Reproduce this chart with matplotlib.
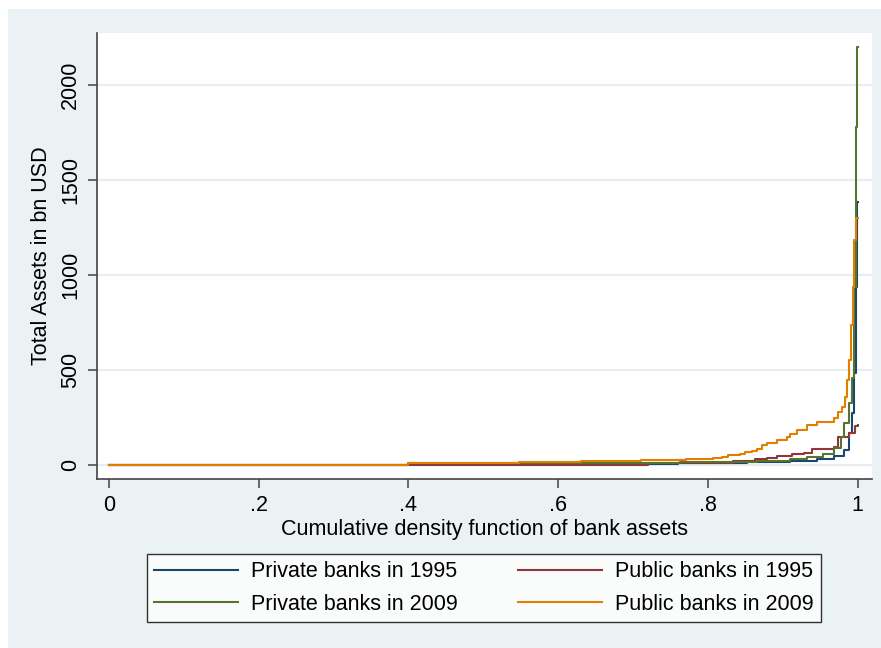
import matplotlib
matplotlib.use("Agg")
import matplotlib.pyplot as plt
import matplotlib.patches as patches

plt.rcParams['font.family'] = ['Liberation Sans', 'DejaVu Sans']

# cumulative share of banks (x) and total assets in bn USD (y)
priv95_x = [0.0, 0.40, 0.76, 0.852, 0.91, 0.945, 0.968, 0.981, 0.988, 0.992, 0.995, 0.997, 0.999, 1.0]
priv95_y = [1, 3, 9, 16, 21, 30, 47, 79, 167, 272, 484, 937, 1382, 1382]

pub95_x = [0.0, 0.72, 0.834, 0.863, 0.879, 0.892, 0.912, 0.928, 0.939, 0.968, 0.974, 0.988, 0.9967, 1.0]
pub95_y = [1, 10, 21, 30, 39, 47, 58, 61, 82, 96, 149, 167, 205, 210]

priv09_x = [0.0, 0.40, 0.71, 0.763, 0.865, 0.91, 0.932, 0.954, 0.968, 0.977, 0.981, 0.988,
            0.992, 0.995, 0.998, 0.9995, 1.0]
priv09_y = [2, 8, 12, 16, 21, 30, 40, 58, 88, 149, 219, 325, 456, 938, 1781, 2202, 2202]

pub09_x = [0.0, 0.40, 0.548, 0.63, 0.71, 0.771, 0.807, 0.819, 0.827, 0.843, 0.850, 0.859, 0.865,
           0.872, 0.879, 0.892, 0.905, 0.910, 0.919, 0.932, 0.945, 0.968, 0.974, 0.979, 0.983,
           0.986, 0.988, 0.991, 0.993, 0.995, 0.9975, 1.0]
pub09_y = [2, 9, 14, 20, 27, 30, 37, 44, 51, 58, 68, 75, 86, 105, 114, 132, 149, 165, 184, 210,
           228, 246, 281, 307, 360, 447, 553, 737, 938, 1184, 1298, 1298]

labels = ["Private banks in 1995", "Public banks in 1995",
          "Private banks in 2009", "Public banks in 2009"]
colors = ["#1a476f", "#90353b", "#55752f", "#e37e00"]
xticks = [0, 0.2, 0.4, 0.6, 0.8, 1]
xticklabels = ["0", ".2", ".4", ".6", ".8", "1"]
yticks = [0, 500, 1000, 1500, 2000]

bg = "#eaf2f3"
W, H = 881, 648
fig = plt.figure(figsize=(W / 100, H / 100), dpi=100, facecolor="white")
fig.add_artist(patches.Rectangle((8 / W, 0), 1 - 8 / W, 1 - 9 / H, transform=fig.transFigure,
                                 facecolor=bg, edgecolor="none", zorder=-1))

ax = fig.add_axes([97 / W, 1 - 479 / H, (872 - 97) / W, (479 - 33) / H])
ax.set_facecolor("white")

series = [(priv95_x, priv95_y), (pub95_x, pub95_y), (priv09_x, priv09_y), (pub09_x, pub09_y)]
lines = []
for (xs, ys), c, lab in zip(series, colors, labels):
    ln, = ax.plot(xs, ys, drawstyle="steps-post", color=c, lw=1.5, label=lab)
    lines.append(ln)

ax.set_xlim(-0.016, 1.019)
ax.set_ylim(-74, 2274)
ax.set_xticks(xticks)
ax.set_xticklabels(xticklabels)
ax.set_yticks(yticks)
ax.grid(axis="y", color="#e6eef1", lw=1.5)
ax.set_axisbelow(True)
for s in ["top", "right"]:
    ax.spines[s].set_visible(False)
for s in ["left", "bottom"]:
    ax.spines[s].set_color("#444444")
    ax.spines[s].set_linewidth(1.2)

ax.tick_params(axis="both", labelsize=15.5, length=6.5, width=1.1, color="#444444", pad=5)
for t in ax.get_yticklabels():
    t.set_rotation(90)
    t.set_va("center")

ax.set_xlabel("Cumulative density function of bank assets", fontsize=15.5, labelpad=2)
ax.set_ylabel("Total Assets in bn USD", fontsize=15.5, labelpad=6)

order = [0, 2, 1, 3]
leg = fig.legend([lines[i] for i in order], [labels[i] for i in order], ncol=2,
                 loc="center", bbox_to_anchor=((143.6 + 824) / 2 / W, 1 - 588 / H),
                 fontsize=15.5, frameon=True, fancybox=False, edgecolor="black",
                 handlelength=3.9, columnspacing=2.8, handletextpad=0.6,
                 borderpad=0.35, labelspacing=0.55)
leg.get_frame().set_linewidth(1.0)

fig.savefig("out.png", dpi=100, facecolor="white")
